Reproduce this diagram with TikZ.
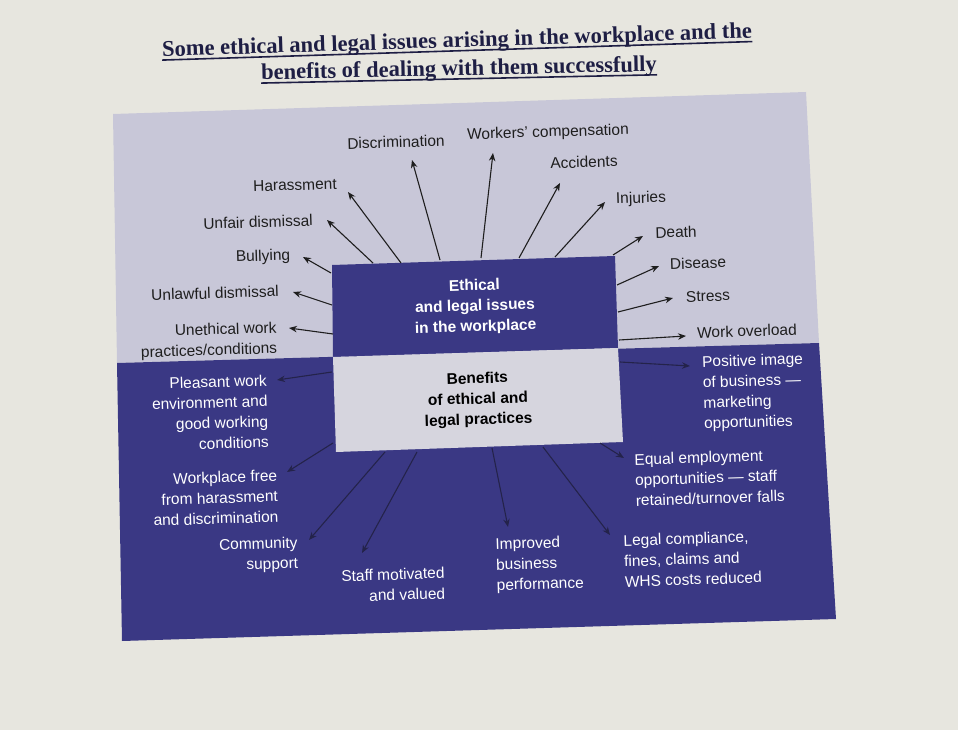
\documentclass[tikz,border=0pt]{standalone}
\usepackage{fontspec}
\setmainfont{Liberation Sans}
\newfontfamily\titlefont{Liberation Serif}
\usetikzlibrary{arrows.meta,calc}
\definecolor{paper}{HTML}{E7E6DF}
\definecolor{lightreg}{HTML}{C8C7D8}
\definecolor{lightbox}{HTML}{D6D5DE}
\definecolor{navy}{HTML}{3A3884}
\definecolor{titlecol}{HTML}{1E1E44}
\definecolor{inkdark}{HTML}{1E1E1E}
\definecolor{arrdark}{HTML}{24234A}
\begin{document}
\begin{tikzpicture}[x=1pt,y=-1pt,
  lbl/.style={rotate=1.8,inner sep=0pt,font=\fontsize{15.5}{20.5}\selectfont,text=inkdark},
  wlbl/.style={lbl,text=white},
  boxtxt/.style={rotate=1.8,inner sep=0pt,align=center,font=\bfseries\fontsize{15.5}{20.5}\selectfont},
  titletxt/.style={inner sep=0pt,text=titlecol,font=\titlefont\bfseries\fontsize{22.5}{29}\selectfont},
  uline/.style={draw=titlecol,line width=1.6pt},
  toparr/.style={draw=inkdark,line width=1.1pt,-{Stealth[length=8pt,width=6.5pt]}},
  botarr/.style={draw=arrdark,line width=1.1pt,-{Stealth[length=8pt,width=6.5pt]}}]
\fill[paper] (0,0) rectangle (958,730);
\useasboundingbox (0,0) rectangle (958,730);

% title
\node[titletxt,rotate=1.8] (title1) at (457,42)
  {Some ethical and legal issues arising in the workplace and the};
\node[titletxt,rotate=1.2] (title2) at (459,70)
  {benefits of dealing with them successfully};
\draw[uline] ($(title1.base west)!3.5pt!-90:(title1.base east)$) -- ($(title1.base east)!3.5pt!90:(title1.base west)$);
\draw[uline] ($(title2.base west)!3.5pt!-90:(title2.base east)$) -- ($(title2.base east)!3.5pt!90:(title2.base west)$);

% regions
\fill[lightreg] (113,114) -- (806,92) -- (819,343) -- (117,363) -- cycle;
\fill[navy] (117,363) -- (819,343) -- (836,619) -- (122,641) -- cycle;

% central boxes
\fill[navy] (332,265) -- (615,256) -- (618,348) -- (333,357) -- cycle;
\fill[lightbox] (333,357) -- (618,348) -- (623,442) -- (336,452) -- cycle;
\node[boxtxt,text=white] (ethical) at (475,307) {Ethical\\and legal issues\\in the workplace};
\node[boxtxt,text=black] (benefits) at (478,400) {Benefits\\of ethical and\\legal practices};

% top labels
\node[lbl] (discr) at (396,142) {Discrimination};
\node[lbl] (wcomp) at (548,133) {Workers’ compensation};
\node[lbl] (acc) at (584,162) {Accidents};
\node[lbl] (inj) at (641,199) {Injuries};
\node[lbl] (death) at (676,232) {Death};
\node[lbl] (dis) at (698,263) {Disease};
\node[lbl] (stress) at (708,296) {Stress};
\node[lbl] (wover) at (747,331) {Work overload};
\node[lbl] (hara) at (295,185) {Harassment};
\node[lbl] (unfair) at (258,222) {Unfair dismissal};
\node[lbl] (bully) at (263,257) {Bullying};
\node[lbl] (unlaw) at (215,293) {Unlawful dismissal};
\node[lbl,align=right,anchor=east] (uneth) at (277,339) {Unethical work\\practices/conditions};

% bottom labels
\node[wlbl,align=right,anchor=east] (pleas) at (268,411) {Pleasant work\\environment and\\good working\\conditions};
\node[wlbl,align=right,anchor=east] (wfree) at (278,496) {Workplace free\\from harassment\\and discrimination};
\node[wlbl,align=right,anchor=east] (comm) at (298,554) {Community\\support};
\node[wlbl,align=right,anchor=east] (staff) at (445,583) {Staff motivated\\and valued};
\node[wlbl,align=left,anchor=west] (impr) at (496,566) {Improved\\business\\performance};
\node[wlbl,align=left,anchor=west] (legal) at (624,561) {Legal compliance,\\fines, claims and\\WHS costs reduced};
\node[wlbl,align=left,anchor=west] (equal) at (635,480) {Equal employment\\opportunities — staff\\retained/turnover falls};
\node[wlbl,align=left,anchor=west] (posit) at (703,394) {Positive image\\of business —\\marketing\\opportunities};

% arrow end points
\coordinate (s1) at (440,260); \coordinate (t1) at (412,160);
\coordinate (s2) at (481,258); \coordinate (t2) at (493,153);
\coordinate (s3) at (519,258); \coordinate (t3) at (560,183);
\coordinate (s4) at (555,257); \coordinate (t4) at (605,202);
\coordinate (s5) at (613,255); \coordinate (t5) at (643,236);
\coordinate (s6) at (617,285); \coordinate (t6) at (659,266);
\coordinate (s7) at (618,312); \coordinate (t7) at (673,298);
\coordinate (s8) at (619,340); \coordinate (t8) at (686,336);
\coordinate (s9) at (401,263); \coordinate (t9) at (348,192);
\coordinate (s10) at (373,263); \coordinate (t10) at (327,220);
\coordinate (s11) at (331,273); \coordinate (t11) at (303,257);
\coordinate (s12) at (332,305); \coordinate (t12) at (293,292);
\coordinate (s13) at (333,334); \coordinate (t13) at (289,328);
\coordinate (s14) at (332,372); \coordinate (t14) at (277,380);
\coordinate (s15) at (333,443); \coordinate (t15) at (287,472);
\coordinate (s16) at (385,452); \coordinate (t16) at (309,540);
\coordinate (s17) at (417,452); \coordinate (t17) at (362,553);
\coordinate (s18) at (492,448); \coordinate (t18) at (508,527);
\coordinate (s19) at (543,447); \coordinate (t19) at (610,535);
\coordinate (s20) at (600,443); \coordinate (t20) at (624,458);
\coordinate (s21) at (620,362); \coordinate (t21) at (690,366);

\foreach \i in {1,...,13} {\draw[toparr] (s\i) -- (t\i);}
\foreach \i in {14,...,21} {\draw[botarr] (s\i) -- (t\i);}
\end{tikzpicture}
\end{document}
